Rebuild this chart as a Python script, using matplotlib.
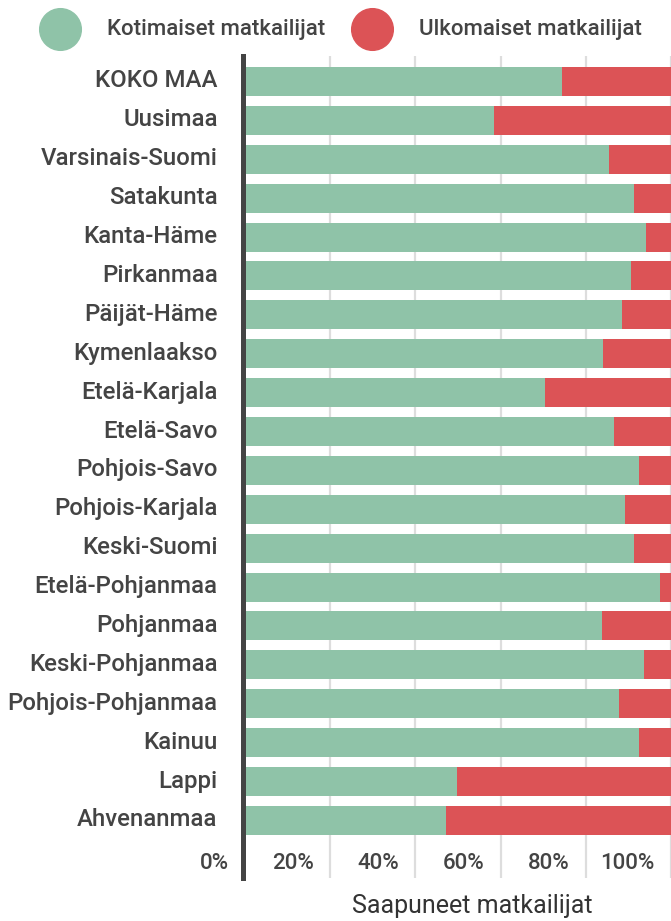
import matplotlib
matplotlib.use('Agg')
from matplotlib import pyplot as plt
from matplotlib.lines import Line2D
from matplotlib.transforms import ScaledTranslation
import numpy as np

plt.rcParams['font.family'] = ['Roboto', 'DejaVu Sans']

regions = ['KOKO MAA', 'Uusimaa', 'Varsinais-Suomi', 'Satakunta', 'Kanta-Häme',
           'Pirkanmaa', 'Päijät-Häme', 'Kymenlaakso', 'Etelä-Karjala', 'Etelä-Savo',
           'Pohjois-Savo', 'Pohjois-Karjala', 'Keski-Suomi', 'Etelä-Pohjanmaa',
           'Pohjanmaa', 'Keski-Pohjanmaa', 'Pohjois-Pohjanmaa', 'Kainuu', 'Lappi',
           'Ahvenanmaa']
# share of domestic travellers (%)
kotimaiset = [74.3, 58.5, 85.5, 91.2, 94.2, 90.5, 88.6, 84.1, 70.5, 86.7,
              92.4, 89.3, 91.2, 97.5, 83.7, 93.7, 87.9, 92.4, 49.8, 47.2]
ulkomaiset = [100 - v for v in kotimaiset]
xticks = [0, 20, 40, 60, 80, 100]
xticklabels = ['0%', '20%', '40%', '60%', '80%', '100%']

green = '#8FC3A8'
red = '#DC5356'
txt = '#444444'

W, H = 671, 921
fig = plt.figure(figsize=(W/100, H/100), dpi=100)
ax = fig.add_axes([240/W, 1-878/H, 431/W, 822/H])

y = np.arange(len(regions))
ax.barh(y, kotimaiset, height=0.745, color=green, zorder=2)
ax.barh(y, ulkomaiset, left=kotimaiset, height=0.745, color=red, zorder=2)

px = 425.5/100  # pixels per percent
ax.set_xlim(-5/px, 100)
ax.set_ylim(20.48, -0.655)

for s in ['top', 'right', 'bottom']:
    ax.spines[s].set_visible(False)
ax.spines['left'].set_position(('data', -5/px + 2.5/px))
ax.spines['left'].set_linewidth(3.6)
ax.spines['left'].set_color(txt)
ax.spines['left'].set_zorder(3)

ax.set_xticks(xticks[1:])
ax.set_xticklabels([])
ax.tick_params(axis='x', length=0)
ax.grid(axis='x', color='#DDDDDD', linewidth=1.6, zorder=0)

ax.set_yticks(y)
ax.set_yticklabels(regions, fontsize=17.3, fontweight='medium', color=txt)
ax.tick_params(axis='y', length=0, pad=18)
up = ScaledTranslation(0, 3/100, fig.dpi_scale_trans)
for lab in ax.get_yticklabels():
    lab.set_transform(lab.get_transform() + up)

off = ScaledTranslation(-16/100, 0, fig.dpi_scale_trans)
for v, lab in zip(xticks, xticklabels):
    ax.text(v, 0.018, lab, transform=ax.get_xaxis_transform() + off,
            ha='right', va='center', fontsize=16, fontweight='medium', color=txt)

fig.text(472/W, 1-906/H, 'Saapuneet matkailijat', ha='center', va='center',
         fontsize=18, color='#333333')

# legend
for cx, tx, col, lab in [(60, 107, green, 'Kotimaiset matkailijat'),
                         (372, 419, red, 'Ulkomaiset matkailijat')]:
    fig.add_artist(Line2D([cx/W], [1-29/H], marker='o', markersize=30, color=col,
                          linestyle='None', transform=fig.transFigure))
    fig.text(tx/W, 1-29/H, lab, ha='left', va='center', fontsize=16,
             fontweight='medium', color=txt)

fig.savefig('out.png', dpi=100)
